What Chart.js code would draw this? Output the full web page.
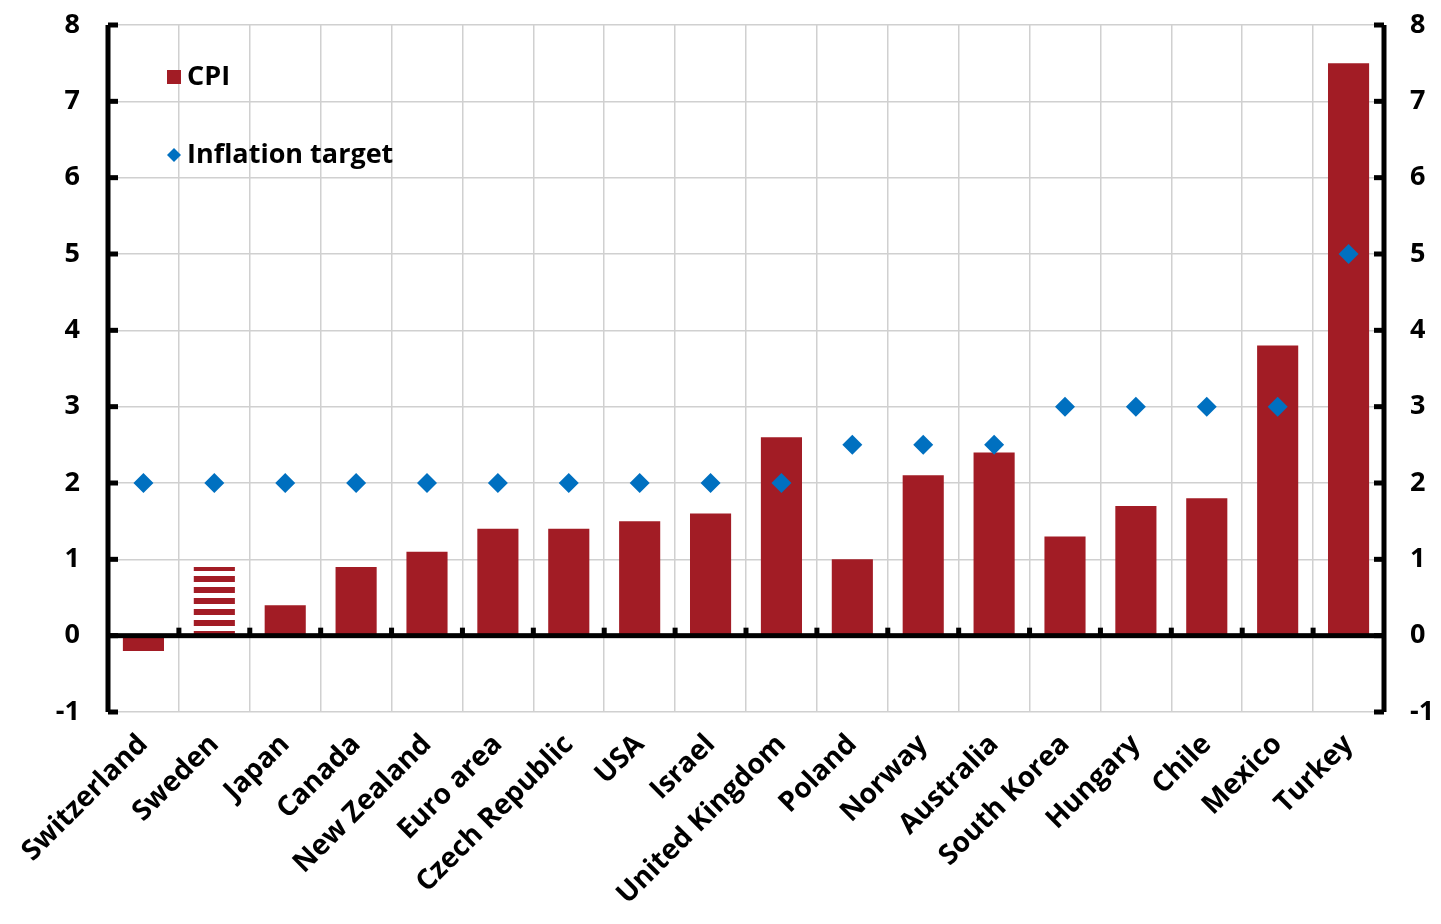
<!DOCTYPE html>
<html>
<head>
<meta charset="utf-8">
<script src="https://cdn.jsdelivr.net/npm/chart.js@4/dist/chart.umd.min.js"></script>
<style>
html,body{margin:0;padding:0;background:#fff;}
#wrap{width:1441px;height:924px;position:relative;}
</style>
</head>
<body>
<div id="wrap"><canvas id="c" width="1441" height="924"></canvas></div>
<script>
const categories = ["Switzerland","Sweden","Japan","Canada","New Zealand","Euro area","Czech Republic","USA","Israel","United Kingdom","Poland","Norway","Australia","South Korea","Hungary","Chile","Mexico","Turkey"];
const cpiValues = [-0.2,0.9,0.4,0.9,1.1,1.4,1.4,1.5,1.6,2.6,1.0,2.1,2.4,1.3,1.7,1.8,3.8,7.5];
const targetValues = [2,2,2,2,2,2,2,2,2,2,2.5,2.5,2.5,3,3,3,3,5];
const stripedCategories = ["Sweden"];
const yMin = -1, yMax = 8;

const RED = '#A21C25';
const BLUE = '#0070C0';
const FONT = "'Open Sans', 'Noto Sans', sans-serif";

function stripePattern(){
  const p = document.createElement('canvas');
  p.width = 10; p.height = 11;
  const g = p.getContext('2d');
  g.fillStyle = '#fff'; g.fillRect(0,0,10,11);
  g.fillStyle = RED; g.fillRect(0,0,10,6);
  const pt = g.createPattern(p,'repeat');
  if (pt.setTransform) pt.setTransform(new DOMMatrix().translate(0,4));
  return pt;
}
const ctx0 = document.getElementById('c').getContext('2d');
const pat = stripePattern();
const barColors = categories.map(c => stripedCategories.includes(c) ? pat : RED);

const decor = {
  id:'decor',
  afterDatasetsDraw(chart){
    const {ctx, chartArea:a, scales} = chart;
    const y = scales.y, x = scales.x;
    ctx.save();
    ctx.fillStyle = '#000';
    const y0 = y.getPixelForValue(0);
    ctx.fillRect(a.left, y0-2.5, a.right-a.left, 5);
    for(let i=1;i<categories.length;i++){
      const xb = (x.getPixelForValue(i-1)+x.getPixelForValue(i))/2;
      ctx.fillRect(xb-2.5, y0-8, 5, 8);
    }
    ctx.fillRect(a.left-2.5, a.top, 5, a.bottom-a.top);
    ctx.fillRect(a.right-2.5, a.top, 5, a.bottom-a.top);
    for(let v=yMin; v<=yMax; v++){
      const py = y.getPixelForValue(v);
      ctx.fillRect(a.left, py-2.5, 10, 5);
      ctx.fillRect(a.right-10, py-2.5, 10, 5);
    }
    // legend
    ctx.fillStyle = RED;
    ctx.fillRect(167, 70, 14, 14);
    ctx.fillStyle = BLUE;
    ctx.beginPath();
    ctx.moveTo(174,148); ctx.lineTo(181,155); ctx.lineTo(174,162); ctx.lineTo(167,155); ctx.closePath(); ctx.fill();
    ctx.fillStyle = '#000';
    ctx.font = "bold 27px " + FONT;
    ctx.textBaseline = 'middle';
    ctx.textAlign = 'left';
    ctx.fillText('CPI', 187, 77);
    ctx.fillText('Inflation target', 187, 155);
    ctx.restore();
  }
};

function fitV(w){ return function(s){ s.width = w; s.paddingTop = 0; s.paddingBottom = 0; }; }

new Chart(ctx0, {
  data:{
    labels: categories,
    datasets:[
      {type:'scatter', label:'Inflation target', data: targetValues, backgroundColor: BLUE, borderColor: BLUE,
       pointStyle:'rectRot', pointRadius:10, pointHoverRadius:10, pointBorderWidth:0, showLine:false, order:0},
      {type:'bar', label:'CPI', data: cpiValues, backgroundColor: barColors, barPercentage:0.58, categoryPercentage:1.0, order:1}
    ]
  },
  options:{
    responsive:false, animation:false,
    layout:{padding:{top:25,bottom:0,left:0,right:0}},
    plugins:{legend:{display:false}, tooltip:{enabled:false}},
    scales:{
      x:{type:'category', offset:true,
         grid:{color:'#d0d0d0', lineWidth:1.5, drawTicks:false, offset:true},
         border:{display:false},
         ticks:{font:{family:FONT, size:28, weight:'bold'}, color:'#000', minRotation:45, maxRotation:45, padding:16, autoSkip:false},
         afterFit(s){ s.height = 212; s.paddingLeft = 0; s.paddingRight = 0; }
      },
      y:{type:'linear', position:'left', min:yMin, max:yMax,
         grid:{color:'#d0d0d0', lineWidth:1.5, drawTicks:false},
         border:{display:false},
         ticks:{stepSize:1, font:{family:FONT, size:27, weight:'bold'}, color:'#000', padding:28},
         afterFit: fitV(108)
      },
      y2:{type:'linear', position:'right', min:yMin, max:yMax,
         grid:{display:false, drawTicks:false},
         border:{display:false},
         ticks:{stepSize:1, font:{family:FONT, size:27, weight:'bold'}, color:'#000', padding:26},
         afterFit: fitV(57)
      }
    }
  },
  plugins:[decor]
});
</script>
</body>
</html>
